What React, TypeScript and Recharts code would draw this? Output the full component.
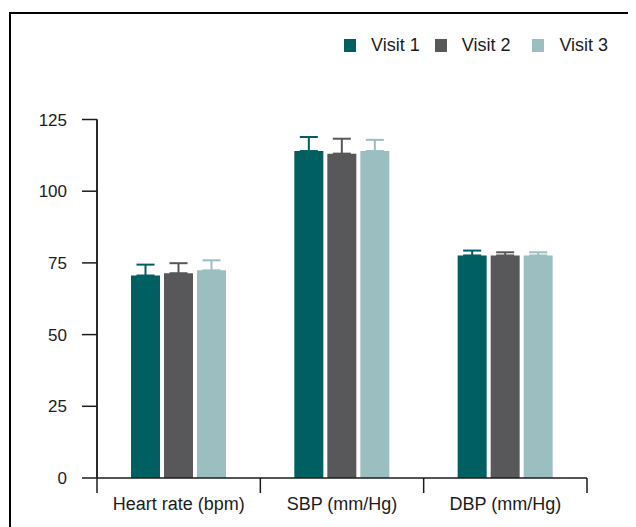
import { BarChart, Bar, XAxis, YAxis, ErrorBar, Legend, ReferenceLine } from "recharts";

// values
const categories = ["Heart rate (bpm)", "SBP (mm/Hg)", "DBP (mm/Hg)"];
const visit1 = [70.6, 114.0, 77.6];
const visit2 = [71.4, 113.1, 77.6];
const visit3 = [72.4, 114.0, 77.6];
// upper error (SD) per bar
const visit1Err = [3.8, 4.9, 1.7];
const visit2Err = [3.5, 5.2, 1.1];
const visit3Err = [3.5, 3.9, 1.1];
const yTicks = [0, 25, 50, 75, 100, 125];

const COLORS = ["#005f61", "#58585a", "#9bbfc0"];
const FONT = "'Liberation Sans', Arial, sans-serif";
const INK = "#1c1c1c";

const data = categories.map((name, i) => ({
  name,
  v1: visit1[i],
  v2: visit2[i],
  v3: visit3[i],
  // only the upper whisker is drawn in the original
  e1: [0, visit1Err[i]],
  e2: [0, visit2Err[i]],
  e3: [0, visit3Err[i]],
}));

const legendGaps = [15, 22, 0];

const renderLegend = (props: any) => {
  const items = props.payload ?? [];
  return (
    <div style={{ display: "flex", alignItems: "center", fontFamily: FONT, fontSize: 18, color: INK }}>
      {items.map((it: any, i: number) => (
        <div key={i} style={{ display: "flex", alignItems: "center", marginRight: legendGaps[i] }}>
          <span style={{ width: 12, height: 13, background: it.color, display: "inline-block", marginRight: 15 }} />
          <span>{it.value}</span>
        </div>
      ))}
    </div>
  );
};

// category label plus tick marks on the band edges (not the band centre)
const CategoryTick = (props: any) => {
  const { x, y, payload, index } = props;
  const half = payload?.offset ?? 0;
  const last = index === categories.length - 1;
  return (
    <g>
      <line x1={x - half} x2={x - half} y1={y} y2={y + 15} stroke={INK} strokeWidth={1.5} />
      {last && <line x1={x + half} x2={x + half} y1={y} y2={y + 15} stroke={INK} strokeWidth={1.5} />}
      <text x={x} y={y + 19} dy="0.71em" textAnchor="middle" fill={INK} fontSize={18} fontFamily={FONT}>
        {payload.value}
      </text>
    </g>
  );
};

export default function App() {
  return (
    <div style={{ position: "relative", width: 628, height: 519, overflow: "hidden" }}>
      <div
        style={{
          position: "absolute",
          left: 1,
          top: 4,
          width: 700,
          height: 600,
          borderLeft: "2px solid #000",
          borderTop: "2px solid #000",
        }}
      />
      <BarChart
        width={628}
        height={519}
        data={data}
        margin={{ top: 111.5, right: 49, bottom: 10, left: 0 }}
        barSize={29}
        barGap={4}
        style={{ position: "absolute", left: 0, top: 0 }}
      >
        <XAxis
          dataKey="name"
          height={39}
          axisLine={{ stroke: INK, strokeWidth: 1.5 }}
          tickLine={false}
          tickSize={0}
          tickMargin={0}
          interval={0}
          tick={<CategoryTick />}
        />
        <YAxis
          domain={[0, 125]}
          ticks={yTicks}
          width={89}
          tickSize={15}
          tickMargin={15}
          axisLine={{ stroke: INK, strokeWidth: 1.5 }}
          tickLine={{ stroke: INK, strokeWidth: 1.5 }}
          tick={{ fill: INK, fontSize: 17, fontFamily: FONT }}
        />
        <ReferenceLine x={categories[0]} position="start" stroke={INK} strokeWidth={1.5} />
        <Legend
          layout="horizontal"
          verticalAlign="middle"
          align="center"
          content={renderLegend}
          wrapperStyle={{ top: 27, left: 336, width: 300, height: 20 }}
        />
        <Bar dataKey="v1" name="Visit 1" fill={COLORS[0]} isAnimationActive={false}>
          <ErrorBar dataKey="e1" width={9} stroke={COLORS[0]} strokeWidth={2} />
        </Bar>
        <Bar dataKey="v2" name="Visit 2" fill={COLORS[1]} isAnimationActive={false}>
          <ErrorBar dataKey="e2" width={9} stroke={COLORS[1]} strokeWidth={2} />
        </Bar>
        <Bar dataKey="v3" name="Visit 3" fill={COLORS[2]} isAnimationActive={false}>
          <ErrorBar dataKey="e3" width={9} stroke={COLORS[2]} strokeWidth={2} />
        </Bar>
      </BarChart>
    </div>
  );
}
